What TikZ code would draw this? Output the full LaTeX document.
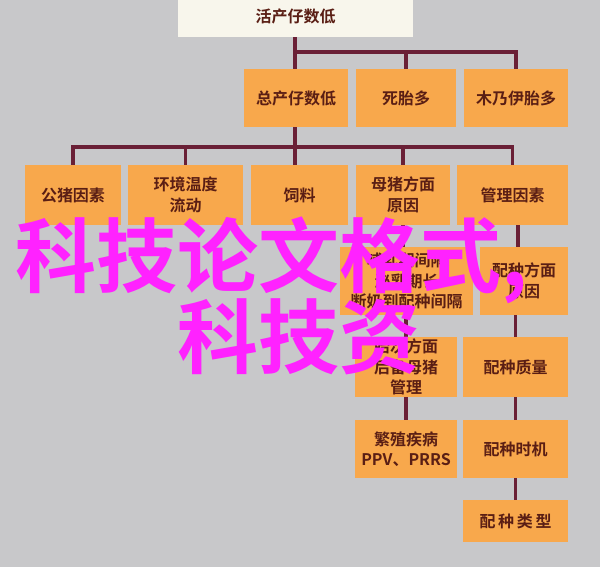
\documentclass[tikz,border=0pt]{standalone}
\usepackage{fontspec}
\newfontfamily\cjkb{Noto Sans CJK SC Bold}
\definecolor{bg}{HTML}{C8C8CA}
\definecolor{boxfill}{HTML}{F8A84C}
\definecolor{topfill}{HTML}{F8F6EC}
\definecolor{linec}{HTML}{6A2036}
\definecolor{txt}{HTML}{5A1E14}
\definecolor{mag}{HTML}{FF22FF}
\begin{document}
\begin{tikzpicture}[x=1pt,y=-1pt,
  box/.style={fill=boxfill, draw=none, inner sep=0pt, align=center, text=txt,
    font=\cjkb\fontsize{16}{20.5}\selectfont},
  topbox/.style={box, fill=topfill},
  conn/.style={draw=linec, line width=3.5pt},
  magtext/.style={text=mag, inner sep=0pt, anchor=base west, font=\cjkb\fontsize{81}{81}\selectfont}]
\useasboundingbox[fill=bg] (0,0) rectangle (600,567);
% level 0 and 1
\node[topbox, minimum width=235pt, minimum height=42pt] (top) at (295.5,16) {活产仔数低};
\node[box, minimum width=104pt, minimum height=58pt] (A) at (296,98) {总产仔数低};
\node[box, minimum width=100pt, minimum height=58pt] (B) at (406,98) {死胎多};
\node[box, minimum width=104pt, minimum height=58pt] (C) at (516,98) {木乃伊胎多};
% level 2
\node[box, minimum width=96pt, minimum height=60pt] (r1) at (73,195) {公猪因素};
\node[box, minimum width=115pt, minimum height=60pt] (r2) at (185.5,195) {环境温度\\流动};
\node[box, minimum width=97pt, minimum height=60pt] (r3) at (299.5,195) {饲料};
\node[box, minimum width=94pt, minimum height=60pt] (r4) at (403,195) {母猪方面\\原因};
\node[box, minimum width=111pt, minimum height=60pt] (r5) at (512.5,195) {管理因素};
% level 3+
\node[box, minimum width=133pt, minimum height=68pt] (m1) at (406.5,281) {哺乳期间隔\\泌乳期长\\断奶到配种间隔};
\node[box, minimum width=88pt, minimum height=68pt] (p1) at (524,281) {配种方面\\原因};
\node[box, minimum width=102pt, minimum height=60pt] (m2) at (406,367) {胎次方面\\后备母猪\\管理};
\node[box, minimum width=105pt, minimum height=60pt] (p2) at (515.5,367) {配种质量};
\node[box, minimum width=102pt, minimum height=58pt] (m3) at (406,449) {繁殖疾病\\PPV、PRRS};
\node[box, minimum width=105pt, minimum height=58pt] (p3) at (515.5,449) {配种时机};
\node[box, minimum width=105pt, minimum height=42pt] (p4) at (515.5,521) {配\,种\,类\,型};
% connectors
\coordinate (j1) at (295,52);
\coordinate (j2) at (295,147);
\draw[conn] (j1 |- top.south) -- (j1 |- A.north);
\draw[conn] (j1) -| (C.north);
\draw[conn] (B.north) -- (B.north |- j1);
\draw[conn] (j2 |- A.south) -- (j2 |- r3.north);
\draw[conn] (r1.north) |- (j2) -| (r5.north);
\draw[conn] (r2.north) -- (r2.north |- j2);
\draw[conn] (r4.north) -- (r4.north |- j2);
\draw[conn] (r4.south) -- (r4.south |- m1.north);
\draw[conn] (m1.south -| m2.north) -- (m2.north);
\draw[conn] (m2.south) -- (m3.north);
\draw[conn] (r5.south -| p1.north) ++(-6,0) coordinate (q) -- (q |- p1.north);
\draw[conn] (p1.south -| p2.north) -- (p2.north);
\draw[conn] (p2.south) -- (p3.north);
\draw[conn] (p3.south) -- (p4.north);
% overlay text
\node[magtext] (w1) at (15,286) {科技论文格式,};
\node[magtext] (w2) at (177,367) {科技资};
\end{tikzpicture}
\end{document}
